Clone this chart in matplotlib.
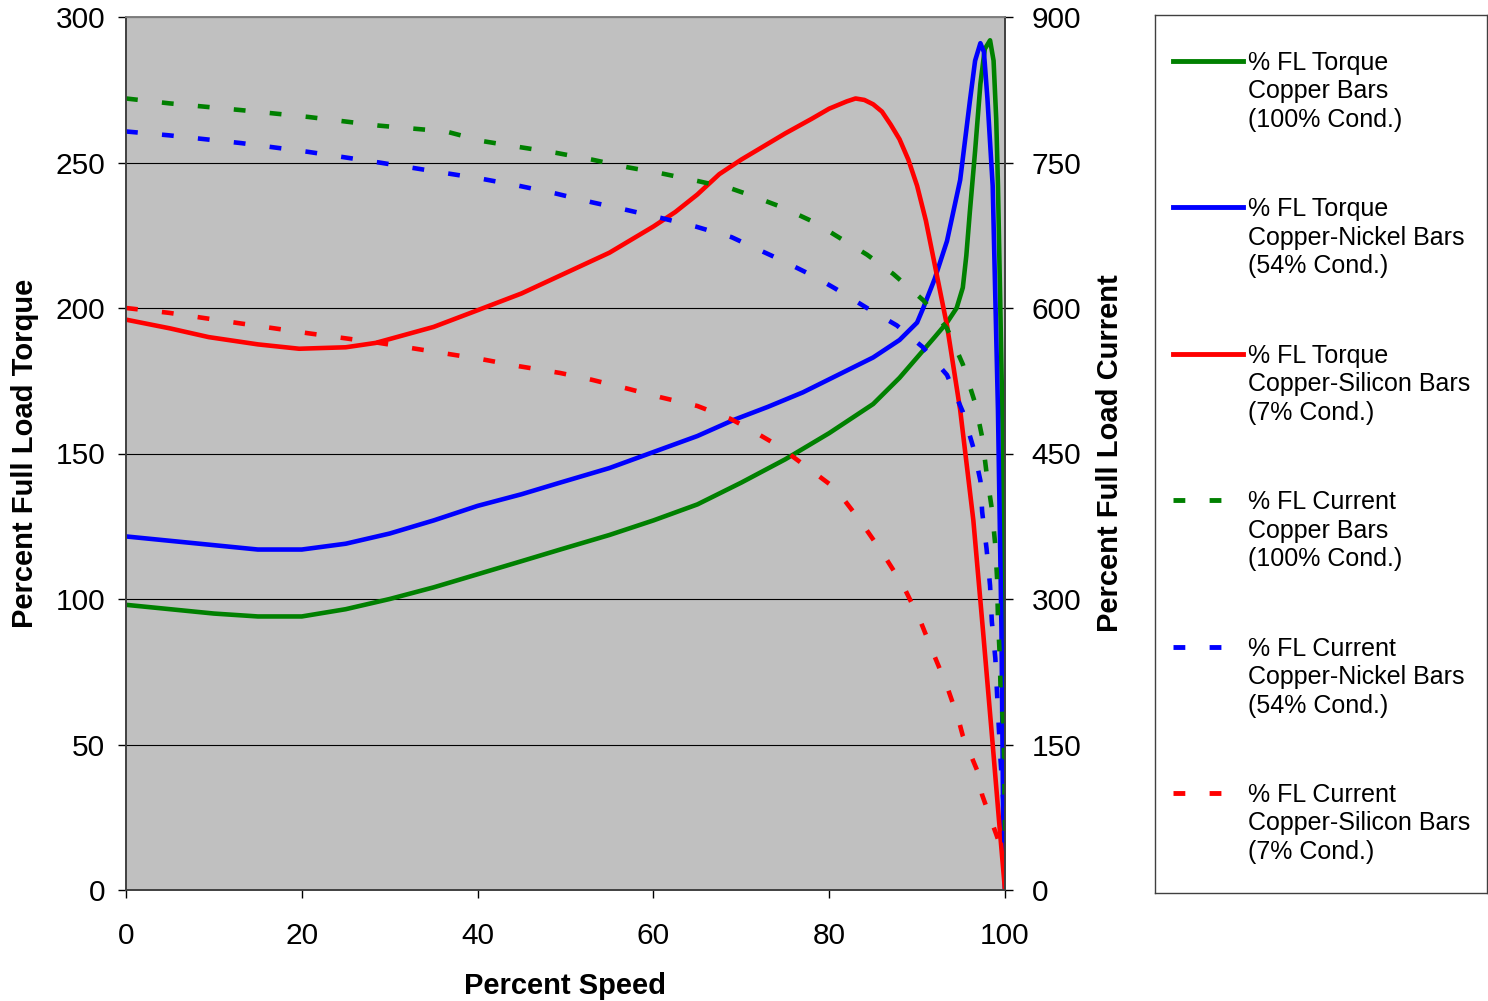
import matplotlib
matplotlib.use('Agg')
import matplotlib.pyplot as plt
from matplotlib.lines import Line2D

plt.rcParams['font.family'] = ['Liberation Sans', 'DejaVu Sans']
plt.rcParams['lines.scale_dashes'] = False

# Torque curves (% full load torque vs % speed)
cu_torque_speed = [0, 5, 10, 15, 20, 25, 30, 35, 40, 45, 49.4, 55, 60, 65, 70, 75, 80, 85,
                   88, 90, 92, 93.4, 94.5, 95.2, 95.6, 96, 96.6, 97.2, 97.7, 98.3, 98.7,
                   99.0, 99.2, 99.5, 99.8, 99.95, 100]
cu_torque = [98, 96.5, 95, 94, 94, 96.5, 100, 104, 108.5, 113, 117, 122, 127, 132.5, 140, 148,
             157, 167, 176, 183, 190, 195, 200, 207, 218, 233, 254, 277, 289, 292, 285,
             265, 242, 195, 146, 50, 0]

cuni_torque_speed = [0, 5, 10, 15, 20, 25, 30, 35, 40, 45, 49.4, 55, 60, 65, 69.1, 73, 77, 80,
                     85, 88, 90, 90.7, 92, 93.4, 94.9, 96, 96.6, 97.2, 97.6, 98, 98.6, 99.2,
                     99.6, 99.8, 100]
cuni_torque = [121.5, 120, 118.5, 117, 117, 119, 122.5, 127, 132, 136, 140, 145, 150.5, 156,
               161.5, 166, 171, 175.5, 183, 189, 195, 200, 210, 223, 244, 271, 285, 291, 288,
               272, 242, 165, 89, 21, 0]

cusi_torque_speed = [0, 5, 9.4, 15, 19.7, 25, 28.4, 35, 39.8, 45, 50, 55, 60, 62.5, 65,
                     67.5, 70, 72.5, 75, 78, 80, 82, 83, 84, 85, 86, 87, 88, 89, 90, 91,
                     92, 93.4, 94.9, 96.4, 97.5, 98.6, 99.4, 100]
cusi_torque = [196, 193, 190, 187.5, 186, 186.5, 188, 193.5, 199, 205, 212, 219, 228, 233,
               239, 246, 251, 255.5, 260, 265, 268.5, 271, 272, 271.5, 270, 267.5, 263,
               258, 251, 242, 230, 215, 194, 165, 127, 89, 50, 21, 0]

# Current curves (% full load current vs % speed)
cu_current_speed = [0, 4.9, 13.1, 20.7, 28.8, 36.4, 40.6, 44.7, 48.9, 53, 57.1, 60.8, 65,
                    68.9, 70.8, 74.6, 78.4, 80.7, 84.3, 87.3, 90.7, 93.4, 95.2, 96.6, 97.4,
                    97.9, 98.5, 98.9, 99.1, 99.2, 99.4, 99.5, 99.8, 99.9, 100]
cu_current = [816, 811, 804, 797, 788, 782, 772, 766, 760, 753, 745, 739, 731, 723, 717, 704,
              688, 675, 655, 635, 608, 579, 542, 502, 467, 430, 393, 355, 321, 279, 242, 205,
              170, 133, 60]

cuni_current_speed = [0, 4.9, 13.1, 20.7, 28.8, 36.4, 40.6, 44.7, 48.9, 53, 57, 60.8, 64.8,
                      68.9, 70.8, 74.4, 78.2, 80.7, 84.3, 87.7, 90.6, 93.4, 95.2, 96.4, 97.2,
                      97.4, 97.9, 98.3, 98.5, 98.9, 99.1, 99.3, 99.5, 99.8, 99.9, 100]
cuni_current = [782, 778, 770, 761, 750, 739, 733, 726, 718, 709, 701, 693, 684, 673, 665,
                650, 633, 620, 600, 582, 560, 531, 493, 456, 422, 390, 352, 314, 277, 239,
                202, 167, 133, 93, 58, 30]

cusi_current_speed = [0, 4.9, 13.1, 20.7, 28.8, 36.4, 40.6, 44.7, 49.4, 53, 57, 60.8, 65,
                      68.7, 70.6, 74.2, 77.6, 80.7, 83.5, 86.1, 88.4, 90.3, 91.8, 93.4, 94.7,
                      95.2, 96.8, 97.4, 98.3, 99.1, 99.6]
cusi_current = [600, 595, 584, 574, 564, 553, 547, 540, 533, 526, 517, 508, 499, 486, 477,
                458, 435, 414, 381, 347, 314, 279, 245, 210, 176, 159, 124, 98, 75, 55, 40]

labels = [
    "% FL Torque\nCopper Bars\n(100% Cond.)",
    "% FL Torque\nCopper-Nickel Bars\n(54% Cond.)",
    "% FL Torque\nCopper-Silicon Bars\n(7% Cond.)",
    "% FL Current\nCopper Bars\n(100% Cond.)",
    "% FL Current\nCopper-Nickel Bars\n(54% Cond.)",
    "% FL Current\nCopper-Silicon Bars\n(7% Cond.)",
]
colors = ['#008000', '#0000FF', '#FF0000']
dash = (0, (8.5, 17.5))   # points: ~12px dash, ~24px gap
LW = 3.3

fig = plt.figure(figsize=(14.88, 10.01), dpi=100)
ax = fig.add_axes([126 / 1488, 111 / 1001, 879 / 1488, 873 / 1001])
ax.set_facecolor('#C0C0C0')

ax.plot(cu_torque_speed, cu_torque, color=colors[0], lw=LW, solid_joinstyle='round')
ax.plot(cuni_torque_speed, cuni_torque, color=colors[1], lw=LW, solid_joinstyle='round')
ax.plot(cusi_torque_speed, cusi_torque, color=colors[2], lw=LW, solid_joinstyle='round')

ax.set_xlim(0, 100)
ax.set_ylim(0, 300)
ax.set_xticks(range(0, 101, 20))
ax.set_yticks(range(0, 301, 50))
ax.grid(True, axis='y', color='black', lw=0.8)
ax.set_axisbelow(True)

ax2 = ax.twinx()
for spd, cur, c in [(cu_current_speed, cu_current, colors[0]),
                    (cuni_current_speed, cuni_current, colors[1]),
                    (cusi_current_speed, cusi_current, colors[2])]:
    ax2.plot(spd, cur, color=c, lw=LW, linestyle=dash, dash_capstyle='butt')
ax2.set_ylim(0, 900)
ax2.set_yticks(range(0, 901, 150))

for a in (ax, ax2):
    for s in a.spines.values():
        s.set_color('#404040')
        s.set_linewidth(1.2)
    a.spines['top'].set_color('#808080')
    a.tick_params(direction='out', length=6, width=1, labelsize=21.5, colors='black')
ax.tick_params(axis='x', pad=17)
ax.tick_params(axis='y', pad=9)
ax2.tick_params(axis='y', pad=13)

ax.set_xlabel('Percent Speed', fontsize=21, fontweight='bold', labelpad=16)
ax.set_ylabel('Percent Full Load Torque', fontsize=21, fontweight='bold', labelpad=12)
ax2.set_ylabel('Percent Full Load Current', fontsize=21, fontweight='bold', labelpad=11)

# Legend box drawn by hand so the key sits on the first line of each label
lax = fig.add_axes([1155 / 1488, 108 / 1001, 332 / 1488, 878 / 1001])
lax.set_xlim(0, 332)
lax.set_ylim(878, 0)
lax.set_xticks([])
lax.set_yticks([])
for s in lax.spines.values():
    s.set_color('#404040')
    s.set_linewidth(1)

for i, lab in enumerate(labels):
    y0 = 46 + i * 146.4
    ls = '-' if i < 3 else dash
    x1 = 88 if i < 3 else 68
    lax.add_line(Line2D([18, x1], [y0, y0], color=colors[i % 3], lw=3.5,
                        linestyle=ls, dash_capstyle='butt'))
    for k, line in enumerate(lab.split('\n')):
        lax.text(93, y0 + 9 + k * 28.5, line, fontsize=18, va='baseline', ha='left')

fig.savefig('out.png', dpi=100)
